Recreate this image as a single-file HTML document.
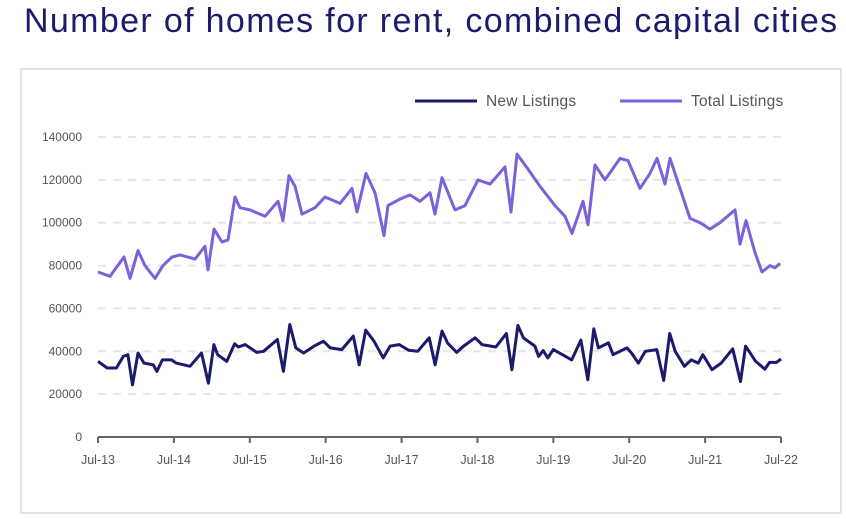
<!DOCTYPE html>
<html><head><meta charset="utf-8"><style>
body{margin:0;background:#fff;width:846px;height:519px;overflow:hidden;font-family:"Liberation Sans",sans-serif}
#title{position:absolute;left:24px;top:2px;font-size:34px;color:#1c1c6b;white-space:nowrap;letter-spacing:1.35px}
#card{position:absolute;left:20px;top:68px;width:818px;height:442px;border:2px solid #e2e2e2;border-radius:2px}
svg{position:absolute;left:0;top:0}
</style></head><body>
<div id="title">Number of homes for rent, combined capital cities</div>
<div id="card"></div>
<svg id="chart" width="846" height="519"></svg>
<script>
const yTicks=[0,20000,40000,60000,80000,100000,120000,140000];
const xLabels=["Jul-13","Jul-14","Jul-15","Jul-16","Jul-17","Jul-18","Jul-19","Jul-20","Jul-21","Jul-22"];
const totalX=[98,110,124,130,138,145,155,163,172,180,195,205,208,214,222,228,235,240,250,265,278,283,289,295,302,315,325,340,352,357,366,375,384,388,400,410,420,430,435,442,455,465,478,490,505,511,517,528,540,555,565,572,583,588,595,605,620,628,640,650,657,665,670,680,690,700,710,720,735,740,746,755,762,770,775,780];
const totalListings=[77000,75000,84000,74000,87000,80000,74000,80000,84000,85000,83000,89000,78000,97000,91000,92000,112000,107000,106000,103000,110000,101000,122000,117000,104000,107000,112000,109000,116000,105000,123000,114000,94000,108000,111000,113000,110000,114000,104000,121000,106000,108000,120000,118000,126000,105000,132000,125000,117000,108000,103000,95000,110000,99000,127000,120000,130000,129000,116000,123000,130000,118000,130000,116000,102000,100000,97000,100000,106000,90000,101000,86000,77000,80000,79000,81000];
const newZX=[40,60,80,95,105,115,127,140,160,168,180,200,210,240,265,280,292,300,320,337,345,360,385,400,430,443,457,470,487,510,530,545,570,595,608,622,640,660,675,695,715,735,760,773,788,800,820,835,860,875,905,928,940,953,965,990,998,1008,1018,1030,1050,1070,1090,1105,1118,1128,1150,1160,1190,1200,1215,1230,1255,1270,1283,1295,1315,1330,1345,1355,1375,1395,1420,1437,1448,1470,1490,1500,1515,1525];
const newListings=[35300,32200,32200,37600,38400,24300,39200,34500,33700,30600,36000,36000,34500,33000,39200,25100,43100,38400,35300,43500,42000,43100,39500,40000,45500,30600,52500,41600,39200,42400,44700,41600,40800,47100,33700,49900,44700,36900,42400,43100,40500,40000,46300,33700,49400,43900,39500,42400,46300,43100,42000,48300,31400,52100,46300,42400,37600,40300,36900,40800,38400,36000,45200,26700,50500,41600,43900,38400,41600,39200,34500,40000,40800,26400,48300,40000,33000,36000,34500,38400,31400,34500,41100,25900,42400,35300,31700,34800,34800,36400];
const X0=98,X1=781,Y0=437,Y1=137;
const xPx=m=>X0+(X1-X0)*m/108;
const yPx=v=>Y0-(Y0-Y1)*v/140000;
const totalMonths=totalX.map(x=>(x-98)/683*108);
const newMonths=newZX.map(z=>(z-40)/1485*108);
const svg=document.getElementById('chart');
const NS='http://www.w3.org/2000/svg';
function mk(t,a){const e=document.createElementNS(NS,t);for(const k in a)e.setAttribute(k,a[k]);svg.appendChild(e);return e;}
yTicks.forEach(v=>{
  if(v>0){const g=mk('line',{x1:X0,x2:X1,y1:yPx(v),y2:yPx(v),stroke:'#e6e6e6','stroke-width':2,'stroke-dasharray':'8,7'});
  
  }
  const t=mk('text',{x:82,y:yPx(v)+4,'text-anchor':'end','font-size':12,fill:'#555'});t.textContent=v;
  
  
});
const ax=mk('line',{x1:X0,x2:X1,y1:Y0,y2:Y0,stroke:'#666','stroke-width':2});


xLabels.forEach((l,i)=>{
  const x=xPx(i*12);
  const tk=mk('line',{x1:x,x2:x,y1:Y0,y2:Y0+6,stroke:'#666','stroke-width':2});
  
  
  const t=mk('text',{x:x,y:464,'text-anchor':'middle','font-size':12.5,fill:'#555'});t.textContent=l;
  
  
});
function line(ms,vs,col,name){
  const d=ms.map((m,i)=>(i?'L':'M')+xPx(m).toFixed(1)+','+yPx(vs[i]).toFixed(1)).join('');
  const p=mk('path',{d:d,fill:'none',stroke:col,'stroke-width':3,'stroke-linejoin':'round'});
  
  
}
line(totalMonths,totalListings,'#7b62da','total-listings-line');
line(newMonths,newListings,'#1b1a6c','new-listings-line');
const leg=[['New Listings','#1b1a6c',415],['Total Listings','#7b62da',620]];
leg.forEach(([l,c,x])=>{
  const s=mk('line',{x1:x,x2:x+62,y1:101,y2:101,stroke:c,'stroke-width':3});
  
  
  const t=mk('text',{x:x+71,y:106,'font-size':15.5,fill:'#555','letter-spacing':0.2});t.textContent=l;
  
  
});
</script>
</body></html>
